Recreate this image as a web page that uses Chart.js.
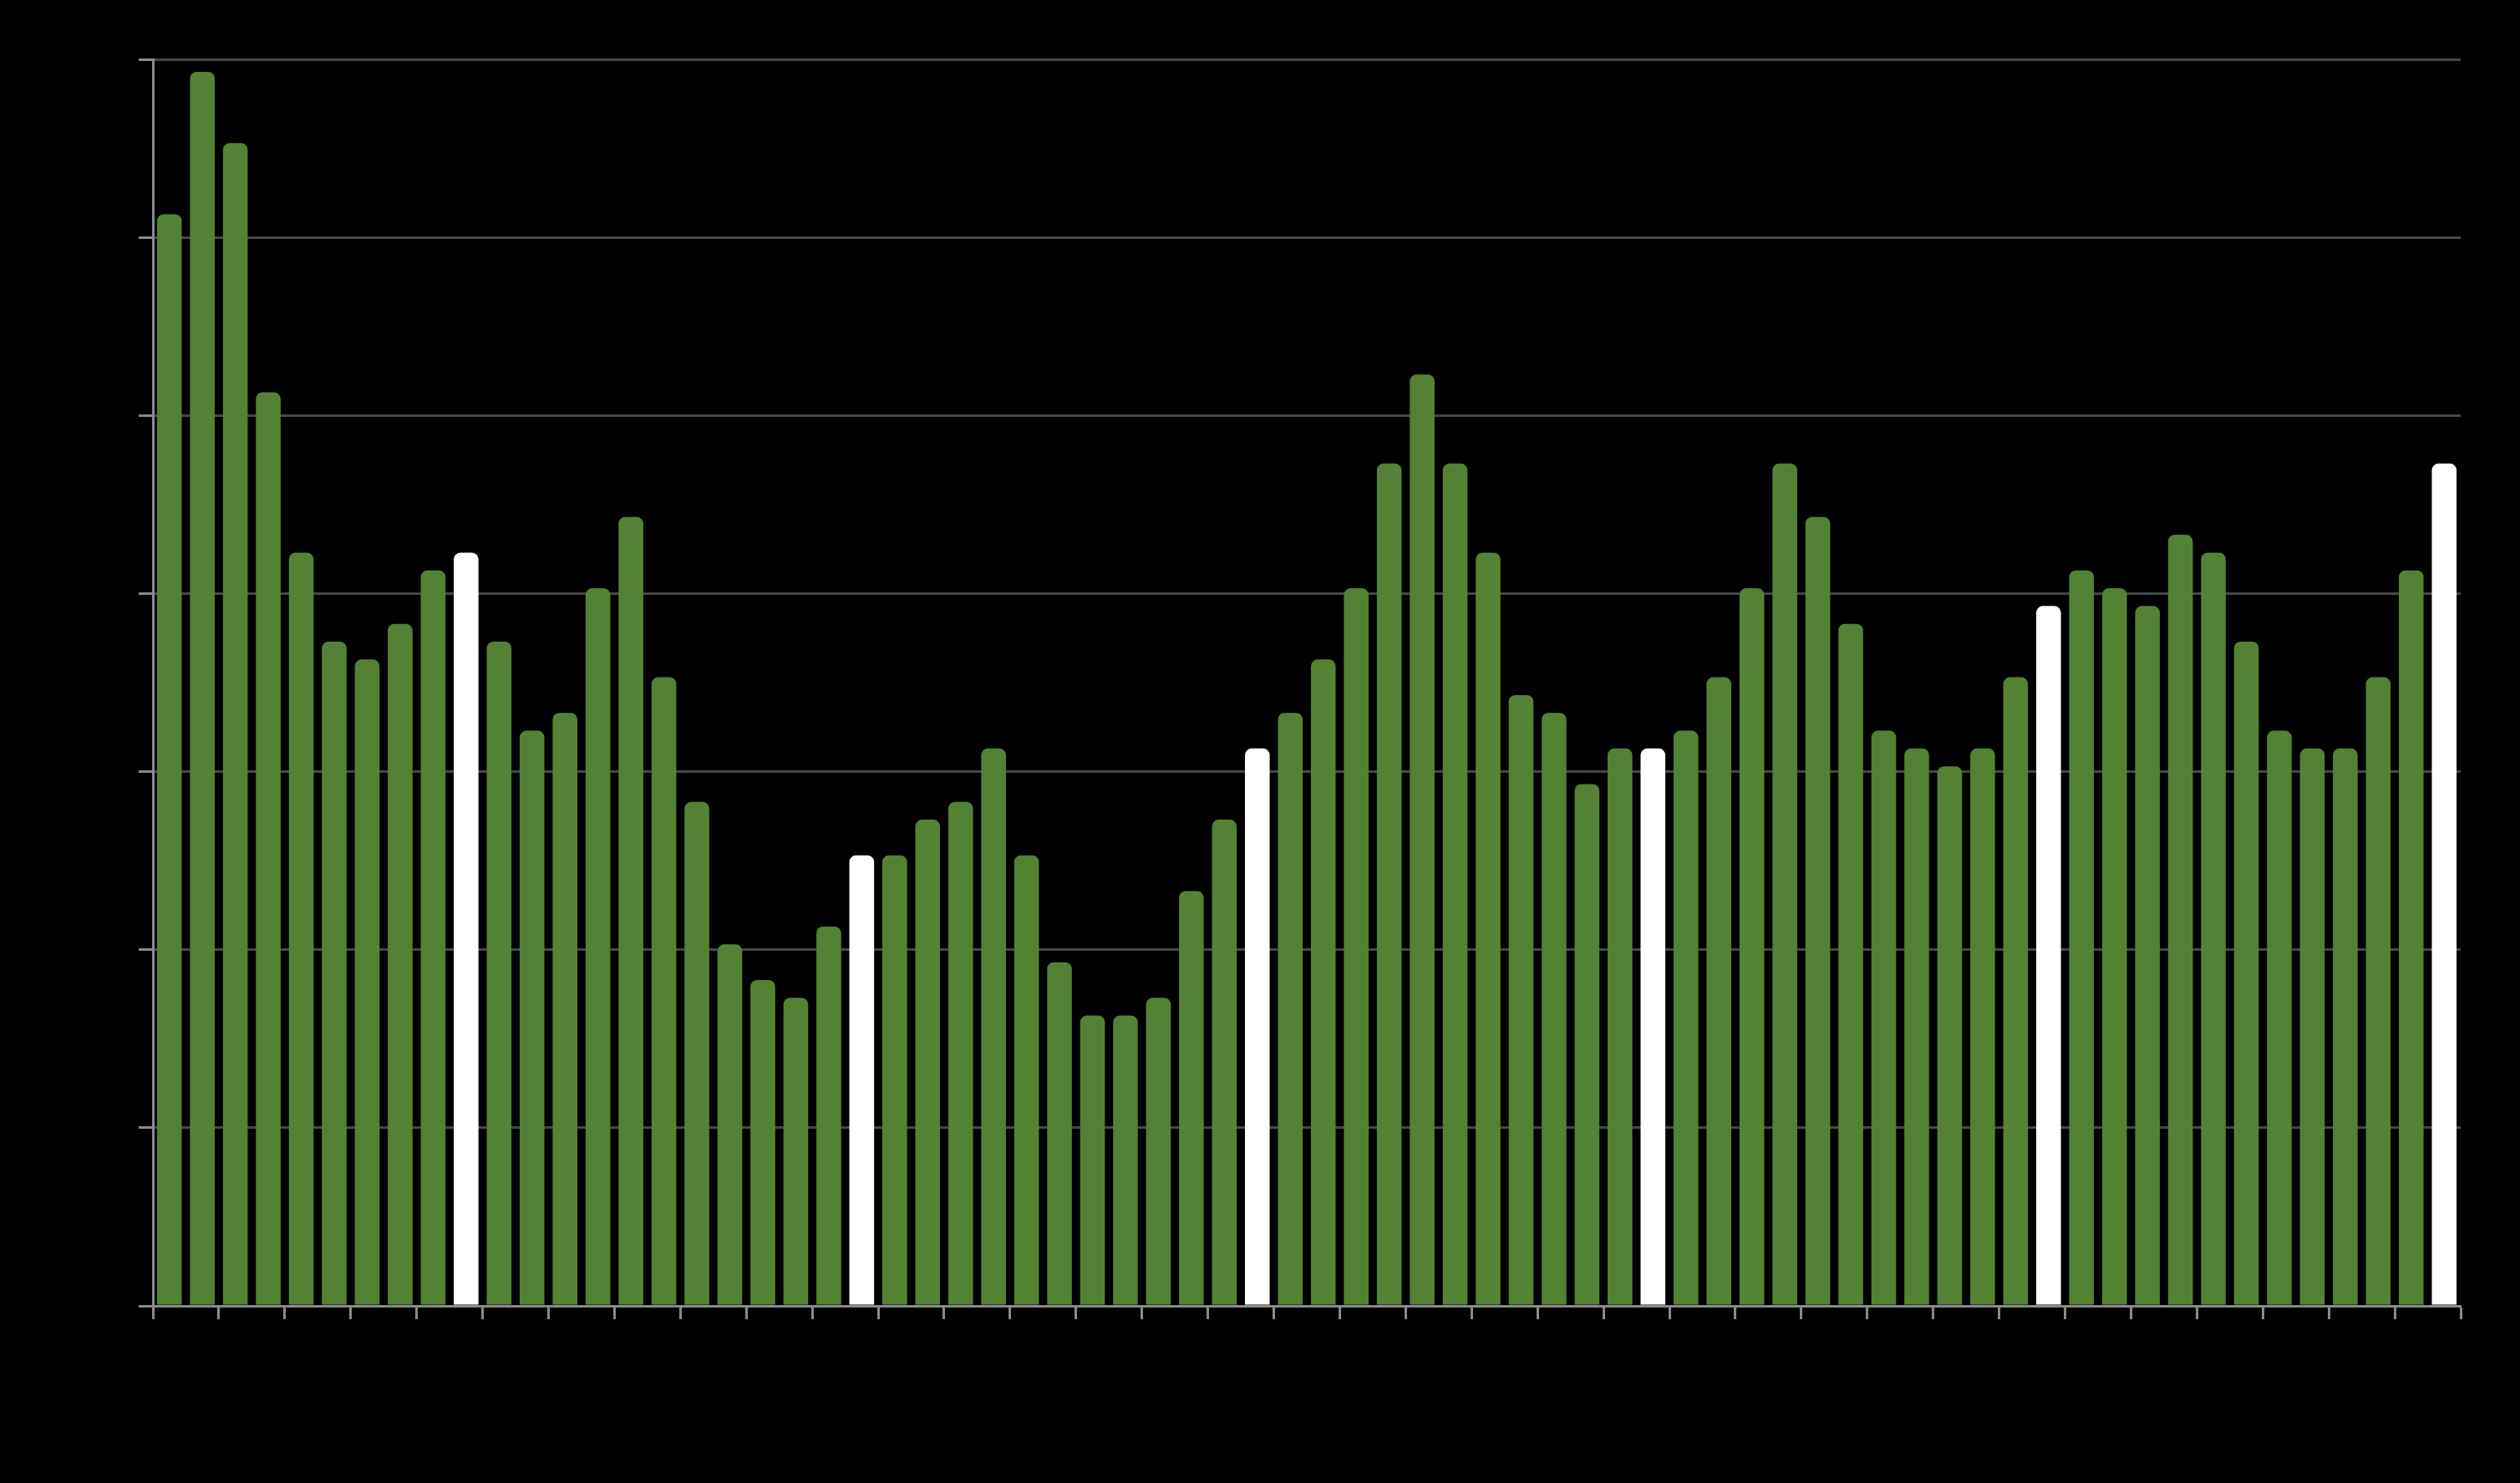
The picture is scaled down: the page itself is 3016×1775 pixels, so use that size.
<!DOCTYPE html>
<html>
<head>
<meta charset="utf-8">
<script src="https://cdn.jsdelivr.net/npm/chart.js@4.4.1/dist/chart.umd.min.js"></script>
<style>
  html, body { margin: 0; padding: 0; background: #000; }
  canvas { display: block; background: #000; }
</style>
</head>
<body>
<canvas id="bars" width="3016" height="1775"></canvas>
<script>
// data (one unit = a tenth of a gridline step)
const categories = ['1','2','3','4','5','6','7','8','9','10',
  '11','12','13','14','15','16','17','18','19','20',
  '21','22','23','24','25','26','27','28','29','30',
  '31','32','33','34','35','36','37','38','39','40',
  '41','42','43','44','45','46','47','48','49','50',
  '51','52','53','54','55','56','57','58','59','60',
  '61','62','63','64','65','66','67','68','69','70'];

const values = [61.3, 69.3, 65.3, 51.3, 42.3, 37.3, 36.3, 38.3, 41.3, 42.3,
  37.3, 32.3, 33.3, 40.3, 44.3, 35.3, 28.3, 20.3, 18.3, 17.3,
  21.3, 25.3, 25.3, 27.3, 28.3, 31.3, 25.3, 19.3, 16.3, 16.3,
  17.3, 23.3, 27.3, 31.3, 33.3, 36.3, 40.3, 47.3, 52.3, 47.3,
  42.3, 34.3, 33.3, 29.3, 31.3, 31.3, 32.3, 35.3, 40.3, 47.3,
  44.3, 38.3, 32.3, 31.3, 30.3, 31.3, 35.3, 39.3, 41.3, 40.3,
  39.3, 43.3, 42.3, 37.3, 32.3, 31.3, 31.3, 35.3, 41.3, 47.3];

// bars shown in white
const highlighted = [9, 21, 33, 45, 57, 69];

const yTicks = [0, 10, 20, 30, 40, 50, 60, 70];

const green = '#548235';
const colors = values.map((v, i) => highlighted.includes(i) ? '#ffffff' : green);

const ctx = document.getElementById('bars').getContext('2d');
const chart = new Chart(ctx, {
  type: 'bar',
  data: {
    labels: categories,
    datasets: [{
      data: values,
      backgroundColor: colors,
      borderWidth: 0,
      borderRadius: 8,
      barPercentage: 0.75,
      categoryPercentage: 1.0
    }]
  },
  options: {
    responsive: false,
    animation: false,
    devicePixelRatio: 1,
    layout: {
      padding: { left: 166, top: 71, right: 71, bottom: 196 }
    },
    plugins: {
      legend: { display: false },
      tooltip: { enabled: false }
    },
    scales: {
      x: {
        offset: true,
        ticks: { display: false },
        grid: {
          drawOnChartArea: false,
          drawTicks: true,
          tickLength: 16,
          tickWidth: 3,
          color: function(c) {
            return (c.index === undefined || c.index % 2 === 0) ? '#8a8a8a' : 'transparent';
          }
        },
        border: { display: true, color: '#8a8a8a', width: 3 }
      },
      y: {
        min: yTicks[0],
        max: yTicks[yTicks.length - 1],
        afterBuildTicks: function(scale) {
          scale.ticks = yTicks.map(v => ({ value: v }));
        },
        ticks: { display: false },
        grid: {
          color: '#474747',
          lineWidth: 3,
          tickLength: 17,
          tickColor: '#8a8a8a',
          tickWidth: 3
        },
        border: { display: true, color: '#8a8a8a', width: 3 }
      }
    }
  }
});
</script>
</body>
</html>
